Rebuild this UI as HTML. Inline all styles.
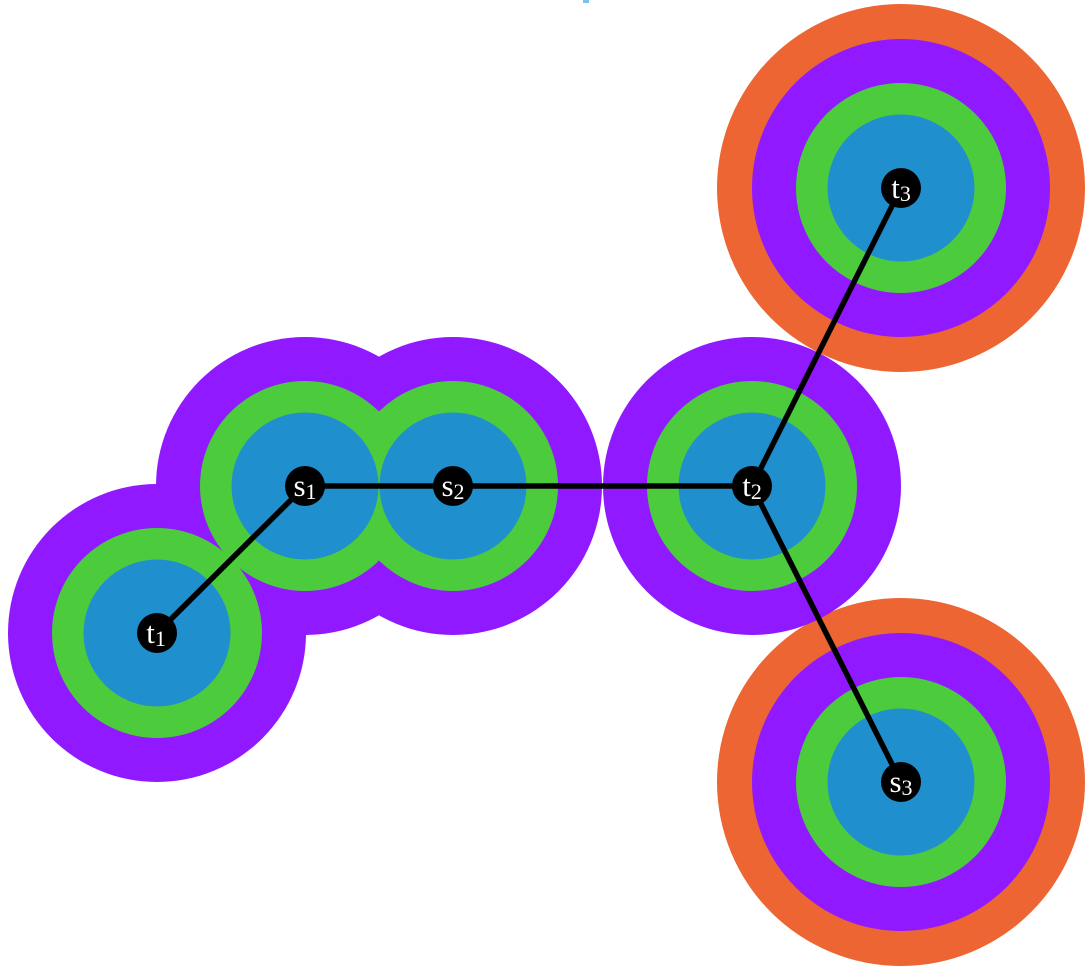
<!DOCTYPE html>
<html><head><style>body{margin:0;background:#fff}svg{display:block}</style></head><body>
<svg width="1090" height="971" viewBox="0 0 1090 971" xmlns="http://www.w3.org/2000/svg">
<rect x="583" y="0" width="6" height="3" fill="#7cc3ec"/>
<g fill="#ec6532"><circle cx="901" cy="188" r="184"/><circle cx="901" cy="782" r="184"/></g>
<g fill="#9119ff">
<circle cx="157" cy="633" r="149"/><circle cx="305" cy="486" r="149"/><circle cx="453" cy="486" r="149"/><circle cx="752" cy="486" r="149"/><circle cx="901" cy="188" r="149"/><circle cx="901" cy="782" r="149"/></g>
<g fill="#4ccb3d">
<circle cx="157" cy="633" r="105"/><circle cx="305" cy="486" r="105"/><circle cx="453" cy="486" r="105"/><circle cx="752" cy="486" r="105"/><circle cx="901" cy="188" r="105"/><circle cx="901" cy="782" r="105"/></g>
<g fill="#208fce">
<circle cx="157" cy="633" r="73.5"/><circle cx="305" cy="486" r="73.5"/><circle cx="453" cy="486" r="73.5"/><circle cx="752" cy="486" r="73.5"/><circle cx="901" cy="188" r="73.5"/><circle cx="901" cy="782" r="73.5"/></g>
<g stroke="#000" stroke-width="5.5">
<line x1="157" y1="633" x2="305" y2="486"/><line x1="305" y1="486" x2="752" y2="486"/><line x1="752" y1="486" x2="901" y2="188"/><line x1="752" y1="486" x2="901" y2="782"/></g>
<g fill="#000"><circle cx="157" cy="633" r="20"/><circle cx="305" cy="486" r="20"/><circle cx="453" cy="486" r="20"/><circle cx="752" cy="486" r="20"/><circle cx="901" cy="188" r="20"/><circle cx="901" cy="782" r="20"/></g>
<g fill="#fff" font-family="Liberation Serif, serif" font-size="31" text-anchor="middle">
<text x="156" y="643">t<tspan font-size="22" dy="3">1</tspan></text>
<text x="305" y="496">s<tspan font-size="22" dy="3">1</tspan></text>
<text x="453" y="496">s<tspan font-size="22" dy="3">2</tspan></text>
<text x="752" y="496">t<tspan font-size="22" dy="3">2</tspan></text>
<text x="901" y="198">t<tspan font-size="22" dy="3">3</tspan></text>
<text x="901" y="792">s<tspan font-size="22" dy="3">3</tspan></text>
</g>
</svg>
</body></html>
